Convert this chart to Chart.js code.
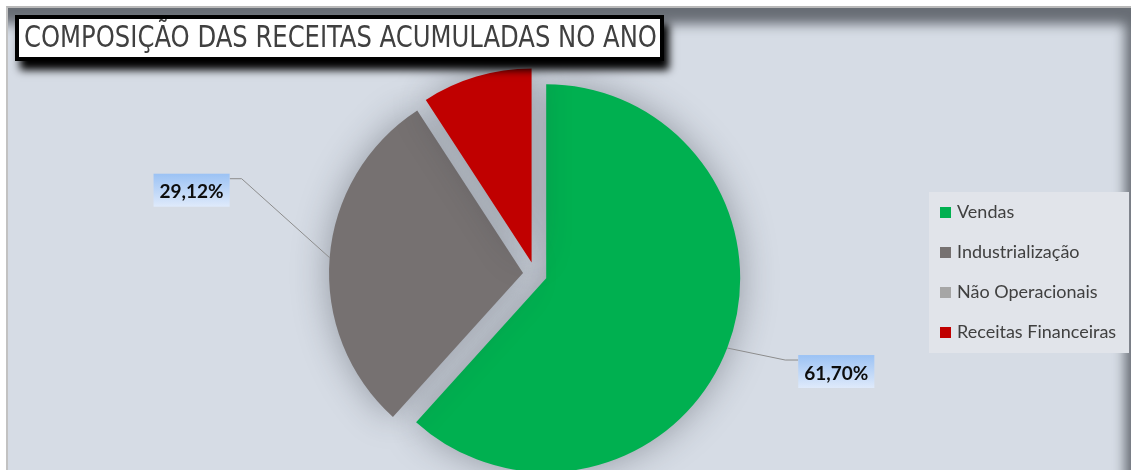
<!DOCTYPE html>
<html>
<head>
<meta charset="utf-8">
<script src="https://cdn.jsdelivr.net/npm/chart.js@4.4.1/dist/chart.umd.min.js"></script>
<style>
  html, body { margin: 0; padding: 0; background: #ffffff; width: 1131px; height: 470px; overflow: hidden; }
  #frame {
    position: absolute; left: 6px; top: 6px; width: 1130px; height: 470px; box-sizing: border-box;
    border-top: 2px solid #b9b9b9; border-left: 2px solid #c2c2c2;
    background: #d6dce5;
    box-shadow: inset -15px 20px 12px -4px rgba(98, 103, 111, 0.95);
  }
  #c { position: absolute; left: 0; top: 0; }
  #title {
    position: absolute; left: 15px; top: 15px; width: 641px; height: 38px;
    border: 4px solid #000; background: #fff;
    box-shadow: 5px 9px 8px rgba(0, 0, 0, 1);
    overflow: hidden; white-space: nowrap;
  }
  #title span {
    position: absolute; left: 5px; top: 3px; line-height: 30px;
    font-family: 'Liberation Sans Narrow', 'DejaVu Sans Condensed', 'Liberation Sans', sans-serif;
    font-size: 30px; color: #404040; transform-origin: 0 0;
  }
</style>
</head>
<body>
<div id="frame"></div>
<canvas id="c" width="1131" height="470"></canvas>
<div id="title"><span id="titleText">COMPOSIÇÃO DAS RECEITAS ACUMULADAS NO ANO</span></div>
<script>
// ---- data ----
const categories = ['Vendas', 'Industrialização', 'Não Operacionais', 'Receitas Financeiras'];
const shares = [61.70, 29.12, 0.00, 9.18];
const sliceColors = ['#00b050', '#767171', '#a6a6a6', '#c00000'];
const labelledSlices = [0, 1];

// fit title to width
(function () {
  const s = document.getElementById('titleText');
  const w = s.getBoundingClientRect().width;
  s.style.transform = 'scaleX(' + (633 / w) + ')';
})();

// pulls every slice out along its bisector by a fixed distance
const explode = {
  id: 'explode',
  beforeDatasetsDraw(chart, args, opts) {
    chart.getDatasetMeta(0).data.forEach(arc => {
      if (arc._explodeWrapped) return;
      const orig = arc.draw;
      arc.draw = function (ctx) {
        const mid = (this.startAngle + this.endAngle) / 2;
        ctx.save();
        ctx.translate(Math.cos(mid) * opts.distance, Math.sin(mid) * opts.distance);
        orig.call(this, ctx);
        ctx.restore();
      };
      arc._explodeWrapped = true;
    });
  }
};

const pieShadow = {
  id: 'pieShadow',
  beforeDatasetsDraw(chart) {
    const c = chart.ctx;
    c.save();
    c.shadowColor = 'rgba(45, 50, 60, 0.40)';
    c.shadowBlur = 36;
    c.shadowOffsetX = 0;
    c.shadowOffsetY = 0;
  },
  afterDatasetsDraw(chart) { chart.ctx.restore(); }
};

const fmtPct = v => v.toFixed(2).replace('.', ',') + '%';

const dataLabels = {
  id: 'dataLabels',
  afterDraw(chart, args, opts) {
    const ctx = chart.ctx;
    const meta = chart.getDatasetMeta(0);
    const ds = chart.data.datasets[0];
    const dist = chart.options.plugins.explode.distance;
    labelledSlices.forEach(i => {
      const arc = meta.data[i];
      const p = arc.getProps(['x', 'y', 'startAngle', 'endAngle', 'outerRadius']);
      const mid = (p.startAngle + p.endAngle) / 2;
      const px = p.x + Math.cos(mid) * (dist + p.outerRadius);
      const py = p.y + Math.sin(mid) * (dist + p.outerRadius);
      const cfg = opts.place[i];
      const text = fmtPct(ds.data[i]);
      ctx.save();
      ctx.font = 'bold 19px Lato, "Open Sans", sans-serif';
      const tw = ctx.measureText(text).width;
      const bw = Math.max(76, tw + 12), bh = 33;
      const bx = cfg.side === 'right' ? px + cfg.dx : px + cfg.dx - bw;
      const by = py + cfg.dy;
      // leader line
      const ay = by + 5;
      const ax = cfg.side === 'right' ? bx : bx + bw;
      const ex = cfg.side === 'right' ? ax - 13 : ax + 12;
      ctx.strokeStyle = '#8c8c8c';
      ctx.lineWidth = 1;
      ctx.beginPath();
      ctx.moveTo(px, py);
      ctx.lineTo(ex, ay);
      ctx.lineTo(ax, ay);
      ctx.stroke();
      // box
      const g = ctx.createLinearGradient(0, by, 0, by + bh);
      g.addColorStop(0, '#9bc2f4');
      g.addColorStop(1, '#dfeafb');
      ctx.fillStyle = g;
      ctx.fillRect(bx, by, bw, bh);
      ctx.fillStyle = '#0d0d0d';
      ctx.textAlign = 'center';
      ctx.textBaseline = 'alphabetic';
      ctx.fillText(text, bx + bw / 2, by + 24.5);
      ctx.restore();
    });
  }
};

const sideLegend = {
  id: 'sideLegend',
  afterDraw(chart, args, opts) {
    const ctx = chart.ctx;
    const ds = chart.data.datasets[0];
    ctx.save();
    ctx.fillStyle = opts.background;
    ctx.fillRect(opts.x, opts.y, opts.w, opts.h);
    ctx.font = '18px Lato, "Open Sans", sans-serif';
    ctx.textBaseline = 'alphabetic';
    ctx.textAlign = 'left';
    chart.data.labels.forEach((lab, i) => {
      const cy = opts.firstY + i * opts.step;
      ctx.fillStyle = ds.backgroundColor[i];
      ctx.fillRect(opts.x + 11, cy - 5, 11, 11);
      ctx.fillStyle = '#404040';
      ctx.fillText(lab, opts.x + 28, cy + 6);
    });
    ctx.restore();
  }
};

new Chart(document.getElementById('c'), {
  type: 'pie',
  data: {
    labels: categories,
    datasets: [{
      data: shares,
      backgroundColor: sliceColors,
      borderWidth: 0,
      clip: false
    }]
  },
  options: {
    responsive: false,
    animation: false,
    events: [],
    radius: 194,
    layout: { padding: { left: 0, right: 61, top: 78, bottom: 0 } },
    plugins: {
      legend: { display: false },
      tooltip: { enabled: false },
      title: { display: false },
      explode: { distance: 12 },
      dataLabels: {
        place: {
          0: { side: 'right', dx: 71, dy: 7 },
          1: { side: 'left', dx: -100, dy: -84 }
        }
      },
      sideLegend: { x: 929, y: 192, w: 200, h: 161, firstY: 212, step: 40, background: '#e1e4ea' }
    }
  },
  plugins: [explode, pieShadow, dataLabels, sideLegend]
});
</script>
</body>
</html>
